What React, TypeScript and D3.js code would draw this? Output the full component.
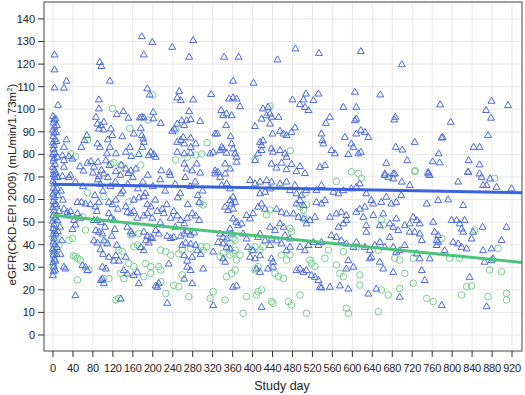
import * as d3 from "d3";

// ---- data: [study day, eGFR] ----
const triBaseline: [number, number][] = [
  [0, 97], [2, 95.5], [1, 94.2], [3, 92.4], [0, 91], [2, 89.7], [1, 88.1], [4, 86.8], [0, 85.4], [2, 84.2],
  [1, 82.6], [3, 81.1], [0, 80.2], [2, 78.4], [1, 77.3], [4, 75.8], [0, 74.6], [2, 73.1], [1, 71.3], [3, 70.2],
  [0, 68.4], [2, 67.2], [1, 65.3], [4, 64.1], [0, 62.7], [2, 61.2], [1, 59.4], [3, 58.1], [0, 56.6], [2, 55.2],
  [1, 53.3], [4, 52.1], [0, 50.7], [2, 49.1], [1, 47.4], [3, 46.2], [0, 44.6], [2, 43.1], [1, 41.4], [4, 40.2],
  [0, 38.3], [2, 37.1], [1, 35.6], [3, 33.8], [0, 32.2], [2, 30.4], [1, 28.3], [0, 26.5], [3, 124.3], [3, 117.7],
  [3, 109.7], [10, 102], [8, 93], [7, 86], [9, 79], [6, 72], [8, 65], [7, 58], [9, 51], [6, 45],
  [8, 39], [5, 33], [10, 62], [12, 55], [5, 96], [6, 90], [9, 70], [4, 29], [10, 46], [7, 36],
];

const triEarly: [number, number][] = [
  [22, 109.6], [27, 112.7], [94, 121], [97, 119.2], [114, 112.7], [92, 104.4], [92, 100.4], [128, 97.9], [141, 99.2], [151, 96.3],
  [86, 96.7], [89, 93.7], [96, 93], [102, 94.5], [92, 91.5], [101, 91.1], [116, 91.5], [119, 88.6], [139, 88.1], [68, 88.6],
  [63, 86.4], [27, 86.7], [22, 83.4], [57, 83.4], [89, 84.9], [94, 83.4], [110, 86.7], [114, 83.4], [108, 80.5], [126, 80.5],
  [146, 81.2], [154, 83.4], [19, 79.7], [22, 77.5], [32, 79.3], [39, 78.2], [22, 74.6], [54, 74.8], [61, 72.9], [69, 76.4],
  [76, 77.1], [82, 74.6], [90, 76.8], [97, 73.2], [106, 77.4], [113, 75.3], [126, 72.6], [137, 75.5], [146, 73.8], [151, 71.8],
  [92, 70.4], [102, 71.6], [156, 73], [19, 70.5], [32, 70], [35, 71], [45, 68], [60, 66], [80, 72], [90, 69],
  [95, 67], [100, 64], [110, 70], [115, 66], [125, 68], [135, 71], [140, 64], [150, 67], [49, 59], [57, 59],
  [65, 58.3], [75, 58], [85, 57], [92, 59], [112, 59], [119, 58], [126, 60], [136, 62.8], [146, 57], [149, 54.6],
  [22, 56], [29, 54.6], [35, 55], [32, 53], [42, 51], [49, 54], [55, 52], [82, 51], [89, 51], [96, 50],
  [112, 54], [116, 52], [122, 51], [156, 54], [39, 47], [45, 49], [86, 46.5], [92, 45.8], [99, 45], [102, 42],
  [109, 40.6], [82, 42], [89, 41], [149, 48], [156, 46], [159, 45], [126, 35.4], [122, 33], [132, 33], [146, 34.7],
  [112, 34.7], [96, 24.4], [99, 25], [102, 23], [99, 30.3], [106, 29.5], [59, 31], [65, 30.3], [22, 30.3], [25, 29.5],
  [45, 17.7], [69, 28.8], [136, 16.2], [142, 28.8], [149, 27.3], [84, 62], [88, 55], [104, 48], [118, 44], [124, 47],
  [130, 56], [95, 38], [100, 36], [128, 40], [16, 64], [14, 48], [18, 42], [15, 36], [20, 60],
];

const triMid1: [number, number][] = [
  [178, 132.4], [199, 129.8], [182, 124.3], [239, 127.7], [281, 130.7], [273, 123.3], [189, 109.3], [194, 106.6], [253, 108.2], [249, 105.3],
  [256, 104.1], [281, 104.4], [162, 89.3], [174, 96.4], [178, 96.7], [182, 96.4], [176, 91.8], [178, 88.6], [181, 87.1], [182, 85.6],
  [179, 83.4], [196, 81.2], [192, 79.7], [202, 80.2], [206, 79], [172, 80.2], [157, 79.3], [201, 98.9], [201, 96], [216, 94],
  [217, 73], [233, 72.3], [243, 91.5], [239, 90.5], [273, 99.2], [258, 95.2], [268, 95.2], [276, 95.7], [295, 94.9], [249, 93.7],
  [263, 93], [261, 87.8], [276, 87.5], [256, 86.4], [249, 85.6], [263, 84.9], [276, 83.4], [286, 84.9], [249, 81.2], [263, 80.5],
  [276, 80.8], [288, 76], [279, 73], [263, 76], [268, 73.8], [166, 73.8], [160, 70], [170, 65], [180, 68], [185, 63],
  [190, 71], [200, 66], [215, 69], [225, 64], [235, 71], [245, 67], [255, 63], [265, 70], [275, 66], [285, 68],
  [295, 72], [300, 64], [162, 60], [172, 61], [182, 61.5], [189, 58], [196, 57], [162, 55], [169, 52], [182, 53],
  [189, 54], [199, 52], [209, 55], [219, 56], [222, 54], [236, 52], [242, 55], [249, 53], [256, 51], [263, 49.5],
  [269, 52], [279, 54], [286, 53], [293, 51], [293, 59], [182, 45.8], [189, 44], [196, 43.5], [186, 42], [192, 41],
  [199, 43], [176, 39], [182, 37.6], [206, 46.5], [212, 45], [229, 44], [236, 43], [242, 43.5], [256, 44], [263, 45],
  [269, 46], [276, 44.5], [283, 45.5], [259, 40], [266, 41], [276, 40.5], [286, 40], [263, 35.4], [269, 33], [279, 34.7],
  [269, 30.3], [276, 28.8], [263, 25], [279, 23], [289, 37.6], [296, 36], [232, 31.7], [209, 21.4], [229, 14.3], [206, 22],
  [212, 23], [172, 23], [162, 26.6], [169, 28], [205, 60], [228, 58], [250, 61], [270, 58], [290, 62], [215, 50], [245, 48],
];

const triMid2: [number, number][] = [
  [343, 123.3], [372, 123.3], [450, 122.1], [486, 127], [533, 125], [617, 125.8], [361, 112.7], [402, 111.8], [317, 106.8], [353, 104.8],
  [361, 105.3], [368, 104.8], [375, 101.4], [337, 99.7], [341, 97.4], [348, 98.2], [358, 97.4], [347, 93], [325, 89.3], [329, 89.3],
  [356, 88.1], [338, 83.4], [341, 82.7], [335, 81.9], [358, 84.9], [361, 82.7], [348, 80.8], [365, 80.5], [368, 79], [315, 80.5],
  [321, 81.2], [325, 73], [331, 72.3], [345, 76], [355, 73.8], [368, 76.8], [405, 92.6], [418, 95.9], [428, 97.4], [435, 98.2],
  [438, 96.7], [452, 96.7], [435, 93.7], [421, 100.4], [431, 101.1], [440, 89.3], [455, 90.5], [462, 89.3], [468, 88.6], [478, 90],
  [485, 92], [415, 85.6], [418, 84.1], [421, 86.3], [438, 82.7], [441, 81.2], [455, 82], [465, 80.5], [468, 79], [411, 80.5],
  [418, 82], [405, 77.5], [438, 76], [448, 74.2], [458, 76.4], [468, 73.5], [478, 75.8], [488, 72.6], [495, 74.9], [505, 71.8],
  [480, 104.4], [495, 102.3], [502, 104.4], [505, 101.1], [512, 99.7], [522, 104.1], [532, 107], [507, 107], [538, 89.3], [540, 86.3],
  [542, 84.9], [547, 94], [555, 96.7], [535, 74.5], [545, 75.3], [558, 82], [565, 80.5], [582, 101.1], [608, 101.1], [605, 107.8],
  [608, 95.9], [605, 95.2], [585, 87.8], [608, 89.3], [598, 84.9], [602, 83.4], [592, 80.2], [612, 80.5], [325, 71.6], [335, 70],
  [345, 71.6], [338, 66.5], [348, 67.2], [355, 65], [361, 61.3], [355, 59.8], [358, 58.3], [365, 59], [345, 56.9], [351, 55.4],
  [361, 56], [361, 51.7], [368, 50.2], [371, 48.7], [378, 49.5], [355, 47.2], [358, 45], [335, 45], [341, 43.5], [348, 42.8],
  [331, 41.3], [341, 40.6], [348, 39.1], [355, 38.4], [321, 37], [341, 34], [345, 32.5], [301, 29.5], [361, 21.4], [368, 22],
  [321, 13.3], [418, 12.5], [408, 29.5], [415, 28], [395, 34.7], [405, 34], [415, 35.4], [391, 39.1], [401, 37.6], [425, 42],
  [438, 42.8], [435, 39.9], [438, 34], [441, 32.5], [411, 43.5], [415, 45], [388, 53.2], [395, 51.7], [401, 54], [411, 56.9],
  [418, 58.3], [425, 56], [415, 62.8], [425, 63.5], [435, 65], [415, 68], [428, 68.7], [438, 68], [395, 68.7], [405, 67.2],
  [448, 56], [458, 54.6], [468, 53.9], [455, 49.5], [462, 48], [435, 48], [445, 46.5], [465, 44.3], [475, 42.8], [448, 42],
  [458, 40.6], [468, 37.6], [475, 39.1], [431, 29.5], [441, 30.3], [488, 28.8], [495, 29.5], [502, 28], [508, 28.8], [518, 26.6],
  [525, 25.8], [532, 24.4], [535, 21.4], [538, 21.1], [488, 58.3], [495, 59.8], [502, 57.6], [488, 62.8], [498, 62], [508, 64.2],
  [482, 53.9], [492, 52.4], [502, 51.7], [508, 49.5], [515, 51], [525, 52.4], [495, 39.1], [505, 37.6], [512, 39.9], [522, 41.3],
  [532, 39.9], [538, 41.3], [528, 59], [538, 58.3], [545, 59.8], [528, 64.2], [538, 66.5], [562, 63.5], [572, 62.8], [582, 64.2],
  [555, 52.4], [568, 53.9], [578, 54.6], [588, 53.2], [572, 48], [582, 49.5], [588, 51], [558, 44.3], [568, 43.5], [578, 42],
  [588, 40.6], [602, 39.1], [608, 41.3], [592, 33.2], [602, 30.3], [588, 29.5], [555, 21.4], [575, 22], [592, 20.6], [608, 54.6],
  [615, 56], [598, 65], [608, 65.7], [615, 67.2], [475, 64.2], [485, 66.5], [455, 67.2], [468, 68], [381, 45], [388, 42.8],
];

const triLate: [number, number][] = [
  [699, 120], [656, 106.6], [776, 102.2], [912, 101.9], [879, 103.8], [868, 99.7], [878, 96.3], [797, 94.5], [686, 96.7], [684, 95.5],
  [872, 88.6], [781, 87.8], [779, 87.5], [725, 85.6], [687, 83.4], [700, 82.2], [843, 83.4], [855, 83.4], [773, 80.5], [668, 76.3],
  [710, 77.5], [761, 77], [775, 76.5], [833, 77.5], [855, 75.6], [617, 90.8], [625, 90], [632, 87.8], [617, 81.2], [665, 71.6],
  [682, 71.6], [752, 72.3], [832, 72.3], [855, 71.6], [665, 70.9], [672, 70.1], [685, 71.6], [682, 69.4], [699, 68], [715, 66.5],
  [752, 71.6], [755, 70.9], [812, 68], [832, 72.4], [859, 70.1], [862, 66.5], [869, 66.5], [876, 69.4], [889, 65.7], [919, 65],
  [628, 62.8], [638, 59.8], [642, 58.3], [658, 59], [668, 61.3], [678, 58.3], [688, 59], [698, 62], [749, 58.3], [772, 59.8],
  [792, 60.1], [822, 57.6], [625, 56.9], [622, 52.4], [628, 48.7], [642, 53.2], [655, 48.7], [662, 53.9], [675, 49.5], [682, 48],
  [688, 51.7], [692, 46.5], [705, 48.7], [715, 49.5], [722, 52.4], [729, 51], [735, 49.5], [715, 45.8], [725, 45.8], [735, 45],
  [739, 42.1], [762, 50.2], [765, 45.8], [772, 44.3], [769, 42.1], [799, 51], [809, 51], [815, 49.5], [819, 47.2], [822, 45.8],
  [825, 51], [839, 42.8], [842, 45.8], [861, 48], [802, 41.3], [812, 40.6], [819, 39.1], [829, 38.4], [785, 37.6], [769, 39.9],
  [772, 41.3], [862, 37.6], [879, 38.4], [882, 34], [879, 33.2], [865, 32.5], [899, 42.1], [909, 48], [628, 45.8], [625, 39.1],
  [635, 37.6], [645, 39.9], [655, 41.3], [665, 39.1], [675, 43.5], [682, 39.1], [688, 36.9], [695, 37.6], [705, 39.9], [729, 36.2],
  [735, 34], [755, 34], [638, 34.7], [635, 34], [655, 32.5], [662, 29.5], [682, 28], [739, 28.8], [745, 24.4], [648, 20.6],
  [632, 18.4], [695, 17], [779, 13.3], [835, 25.8], [869, 12.8],
];

const circBaseline: [number, number][] = [
  [2, 80], [4, 71], [1, 62], [3, 57], [0, 52], [2, 47], [4, 44], [1, 40], [3, 38], [0, 36], [2, 33], [1, 30], [6, 42], [5, 49],
];

const circEarly: [number, number][] = [
  [119, 100.3], [69, 86.4], [154, 91.5], [35, 80.2], [45, 79], [116, 75.7], [122, 76.3], [136, 75.1], [69, 63], [102, 61.3],
  [152, 59], [59, 52.4], [65, 46.5], [39, 42.8], [32, 42], [12, 39.9], [45, 34.7], [49, 34], [41, 35], [55, 33.2],
  [72, 28.8], [49, 24.4], [102, 25], [112, 25], [126, 15.5], [132, 16.2], [142, 25], [162, 30.3], [152, 31.7], [156, 44.3],
  [106, 41], [162, 39], [132, 37.6], [139, 37], [136, 27.3],
];

const circMid: [number, number][] = [
  [191, 95.2], [200, 106.3], [246, 90.8], [246, 77.5], [269, 78.7], [286, 79.7], [176, 75.3], [182, 25.8], [186, 31.7], [196, 30.3],
  [212, 30.3], [216, 28.8], [216, 23.6], [226, 18.4], [242, 22], [252, 21.4], [252, 36], [259, 37.6], [276, 38.4], [216, 37.6],
  [226, 37], [172, 45], [169, 39.9], [236, 35.4], [259, 26.6], [272, 17], [296, 39.1], [196, 27.3], [309, 85.2], [298, 80.2],
  [435, 101.4], [476, 81.6], [405, 77.8], [598, 72.3], [301, 37.6], [308, 39.1], [295, 58.3], [301, 57.6], [335, 34.7], [341, 36.2],
  [355, 35.4], [361, 36.2], [365, 37.6], [375, 35.4], [368, 33.2], [348, 25.8], [358, 27.3], [365, 28.8], [315, 16.2], [321, 19.2],
  [345, 15.5], [381, 9.6], [388, 17], [408, 17.7], [411, 19.2], [418, 20], [405, 28.8], [411, 30.3], [398, 37.6], [405, 39.1],
  [415, 37.6], [421, 39.1], [428, 53.2], [435, 55.4], [361, 42.8], [365, 42], [355, 40.6], [445, 27.3], [452, 25.8], [462, 25.1],
  [438, 14.8], [441, 14], [458, 35.4], [468, 33.2], [475, 35.4], [472, 14.8], [478, 13.3], [495, 17.7], [508, 9.6], [475, 47.2],
  [478, 45.8], [502, 52.4], [505, 51], [508, 57.6], [495, 56.9], [502, 55.4], [515, 33.2], [518, 31.7], [525, 30.3], [545, 34],
  [568, 31], [575, 27.3], [582, 25.8], [588, 11.8], [592, 9.6], [568, 68], [505, 62.8], [612, 71.6], [552, 37.6], [582, 36.9],
  [608, 39], [615, 26.6],
];

const circLate: [number, number][] = [
  [726, 72.8], [618, 69.4], [725, 72.4], [885, 69.4], [658, 51], [662, 48.7], [652, 37.6], [685, 34], [695, 33.2], [722, 34],
  [779, 42.8], [795, 34], [815, 34], [845, 46.5], [892, 38.4], [875, 28.8], [899, 28], [705, 27.3], [722, 22.9], [695, 20.6],
  [658, 19.9], [672, 17.7], [749, 16.2], [762, 14.8], [652, 10.3], [819, 17.7], [829, 21.4], [839, 21.7], [872, 17], [909, 18.4],
  [909, 15.5], [615, 22.1],
];

// fitted lines (intercept at day 0, slope per day)
const blueFit = { intercept: 66.8, slope: -0.004 };
const greenFit = { intercept: 53.0, slope: -0.0222 };

const xTicks = d3.range(0, 921, 40);
const yTicks = d3.range(0, 141, 10);

const W = 525;
const H = 395;
const left = 44, right = 522, top = 2, bottom = 351;

const font = "'Liberation Sans', Arial, sans-serif";

export default function App() {
  const x = d3.scaleLinear().domain([-18, 940]).range([left, right]);
  const y = d3.scaleLinear().domain([-7.1, 147.5]).range([bottom, top]);

  const tri = d3.symbol().type(d3.symbolTriangle).size(21)()!;
  const triangles = [...triBaseline, ...triEarly, ...triMid1, ...triMid2, ...triLate];
  const circles = [...circBaseline, ...circEarly, ...circMid, ...circLate];

  const fitLine = (f: { intercept: number; slope: number }) =>
    d3.line<number>().x(d => x(d)).y(d => y(f.intercept + f.slope * d))([0, 940])!;

  return (
    <svg width={W} height={H} style={{ position: "absolute", left: 0, top: 0, background: "#fff" }}>
      <rect x={0} y={0} width={W} height={H} fill="#fff" />
      {/* grid */}
      <g stroke="#e8e8e8" strokeWidth={1}>
        {xTicks.map(t => (
          <line key={"gx" + t} x1={x(t)} x2={x(t)} y1={top} y2={bottom} />
        ))}
        {yTicks.map(t => (
          <line key={"gy" + t} x1={left} x2={right} y1={y(t)} y2={y(t)} />
        ))}
      </g>

      {/* points */}
      <g clipPath="url(#plotClip)">
        {circles.map((d, i) => (
          <circle key={"c" + i} cx={x(d[0])} cy={y(d[1])} r={3.3} fill="none" stroke="#78d090" strokeWidth={1} />
        ))}
        {triangles.map((d, i) => (
          <path key={"t" + i} d={tri} transform={`translate(${x(d[0])},${y(d[1]) + 0.6})`} fill="none" stroke="#4a6bd8" strokeWidth={1} />
        ))}
        <path d={fitLine(greenFit)} stroke="#4cc27a" strokeWidth={3} fill="none" />
        <path d={fitLine(blueFit)} stroke="#3a62dc" strokeWidth={3} fill="none" />
      </g>
      <defs>
        <clipPath id="plotClip">
          <rect x={left} y={top} width={right - left} height={bottom - top} />
        </clipPath>
      </defs>

      {/* frame */}
      <rect x={left} y={top} width={right - left} height={bottom - top} fill="none" stroke="#444" strokeWidth={1} />

      {/* y axis */}
      <g fontFamily={font} fontSize={11} fill="#222">
        {yTicks.map(t => (
          <g key={"yt" + t}>
            <line x1={left - 6} x2={left} y1={y(t)} y2={y(t)} stroke="#333" />
            <text x={left - 9} y={y(t)} dy="0.35em" textAnchor="end">{t}</text>
          </g>
        ))}
      </g>
      {/* x axis */}
      <g fontFamily={font} fontSize={11} fill="#222">
        {xTicks.map(t => (
          <g key={"xt" + t}>
            <line x1={x(t)} x2={x(t)} y1={bottom} y2={bottom + 6} stroke="#333" />
            <text x={x(t)} y={372} textAnchor="middle" letterSpacing={-0.2}>{t}</text>
          </g>
        ))}
      </g>
      <text x={282} y={390} textAnchor="middle" fontFamily={font} fontSize={12.5} fill="#222">Study day</text>
      <text transform={`translate(16,${(top + bottom) / 2 + 8}) rotate(-90)`} textAnchor="middle" fontFamily={font} fontSize={11.5} fill="#222">
        eGFR(CKD-EPI 2009) (mL/min/1.73m<tspan dy="-4" fontSize={8}>2</tspan><tspan dy="4">)</tspan>
      </text>
    </svg>
  );
}
